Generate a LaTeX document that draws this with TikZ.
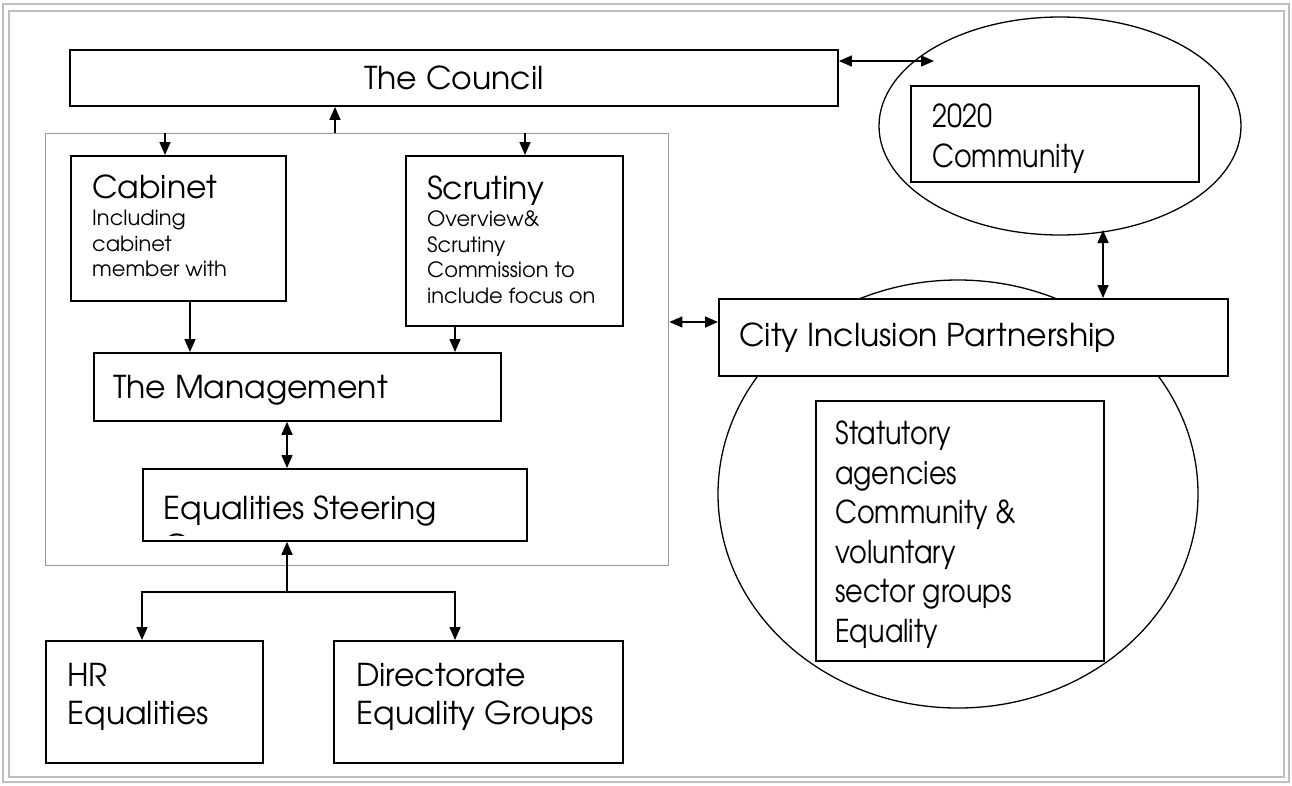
\documentclass[tikz,border=0pt]{standalone}
\usepackage{fontspec}
\setmainfont{TeX Gyre Adventor}
\newfontfamily\narrowfam{TeX Gyre Adventor}[FakeStretch=0.86]
\usetikzlibrary{arrows.meta,shapes.geometric,positioning}

\newcommand{\bigf}{\fontsize{31.5}{38}\selectfont}
\newcommand{\midf}{\narrowfam\fontsize{31.5}{39.5}\selectfont}
\newcommand{\smallf}{\fontsize{21}{25.7}\selectfont}

\tikzset{
  box/.style={draw, line width=1.8pt, fill=white, rectangle, inner sep=0pt, anchor=north west},
  core/.style={draw=black!40, line width=1.4pt, rectangle, inner sep=0pt, anchor=north west},
  ring/.style={draw, ellipse, line width=1.3pt, inner sep=0pt},
  txt/.style={anchor=north west, align=left, inner sep=0pt, font=\bigf},
  note/.style={anchor=north west, align=left, inner sep=0pt, font=\smallf},
  frame/.style={draw=black!25, line width=1.6pt},
  link/.style={line width=1.5pt, -{Triangle[length=13pt,width=11pt]}},
  twoway/.style={line width=1.5pt, {Triangle[length=13pt,width=11pt]}-{Triangle[length=13pt,width=11pt]}},
}

\begin{document}
\begin{tikzpicture}[x=1pt, y=-1pt]
  \useasboundingbox (0,0) rectangle (1292,785);
  % page frame
  \draw [frame] (3,4) rectangle (1289,782);
  \draw [frame] (9,11) rectangle (1284,777);

  % council side
  \node [box, anchor=center, minimum width=768, minimum height=56, font=\bigf] (council) at (454,78) {The Council};
  \node [core, minimum width=623, minimum height=432] (core) at (45,133) {};

  \node [box, minimum width=215, minimum height=145] (cab) at (70,155) {};
  \node [note] (cabtxt) at ([shift={(22,20)}]cab.north west) {{\bigf Cabinet}\\[1pt]Including\\cabinet\\member with};

  \node [box, minimum width=217, minimum height=170] (scr) at (405,155) {};
  \node [note] (scrtxt) at ([shift={(22,21)}]scr.north west) {{\bigf Scrutiny}\\[1pt]Overview\&\\Scrutiny\\Commission to\\include focus on};

  \node [box, minimum width=407, minimum height=68] (mgmt) at (93,352) {};
  \node [txt] (mgmttxt) at ([shift={(20,23)}]mgmt.north west) {The Management};

  \node [box, minimum width=384, minimum height=72] (esg) at (142,468) {};
  \begin{scope}
    \clip (esg.north west) rectangle ([yshift=6pt]esg.south east);
    \node [txt] (esgtxt) at ([shift={(21,28)}]esg.north west) {Equalities Steering\\Group};
  \end{scope}

  \node [box, minimum width=217, minimum height=122] (hr) at (45,640) {};
  \node [txt] (hrtxt) at ([shift={(22,23)}]hr.north west) {HR\\Equalities};

  \node [box, minimum width=289, minimum height=122] (dir) at (333,640) {};
  \node [txt] (dirtxt) at ([shift={(23,23)}]dir.north west) {Directorate\\Equality Groups};

  % partnership side
  \node [ring, minimum width=362, minimum height=218] (comm) at (1060,126) {};
  \node [box, minimum width=288, minimum height=96] (commbox) at (910,85) {};
  \node [txt, font=\midf] (commtxt) at ([shift={(22,19)}]commbox.north west) {2020\\Community};

  \node [ring, minimum width=480, minimum height=428] (ring) at (958,494) {};
  \node [box, minimum width=509, minimum height=77] (cip) at (718,298) {};
  \node [txt, anchor=west] (ciptxt) at ([xshift=21pt]cip.west) {City Inclusion Partnership};
  \node [box, minimum width=288, minimum height=260] (stat) at (815,400) {};
  \node [txt, font=\midf] (stattxt) at ([shift={(20,21)}]stat.north west) {Statutory\\agencies\\Community \&\\voluntary\\sector groups\\Equality};

  % columns and rows of the links
  \coordinate (xup) at (335,0);
  \coordinate (xcab) at (165,0);
  \coordinate (xscr) at (525,0);
  \coordinate (xcm) at (190,0);
  \coordinate (xsm) at (455,0);
  \coordinate (xesg) at (287,0);
  \coordinate (fork) at (287,592);
  \coordinate (ytop) at (0,61);
  \coordinate (commin) at (934,61);
  \coordinate (ylink) at (0,322);
  \coordinate (commfoot) at (1103,230);

  \draw [link] (core.north -| xup) -- (council.south -| xup);
  \draw [link] (core.north -| xcab) -- (cab.north -| xcab);
  \draw [link] (core.north -| xscr) -- (scr.north -| xscr);
  \draw [link] (cab.south -| xcm) -- (mgmt.north -| xcm);
  \draw [link] (scr.south -| xsm) -- (mgmt.north -| xsm);
  \draw [twoway] (mgmt.south -| xesg) -- (esg.north -| xesg);
  \draw [link] (fork) -- (esg.south -| fork);
  \draw [link] (fork) -| ([xshift=97pt]hr.north west);
  \draw [link] (fork) -| ([xshift=122pt]dir.north west);

  \draw [twoway] (council.east |- ytop) -- (commin);
  \draw [twoway] (commfoot) -- (cip.north -| commfoot);
  \draw [twoway] (core.east |- ylink) -- (cip.west |- ylink);
\end{tikzpicture}
\end{document}
